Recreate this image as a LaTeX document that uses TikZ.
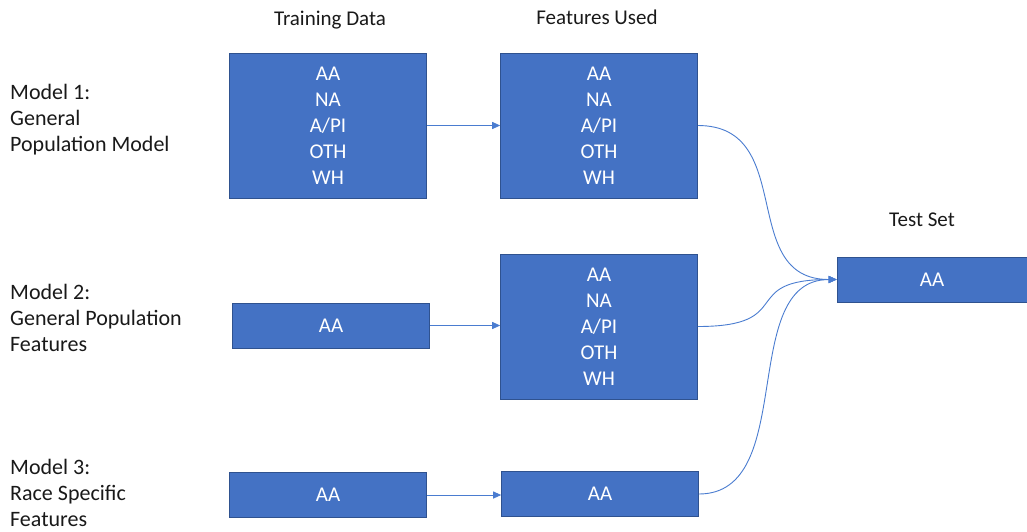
\documentclass[tikz,border=0pt]{standalone}
\usepackage{fontspec}
\setmainfont{Carlito}
\usetikzlibrary{arrows.meta}
\definecolor{boxblue}{HTML}{4472C4}
\definecolor{boxedge}{HTML}{2F528F}
\definecolor{linkblue}{HTML}{4A7CD0}

\begin{document}
\begin{tikzpicture}[x=1pt,y=-1pt,
  every node/.style={font=\fontsize{21}{26}\selectfont},
  databox/.style={draw=boxedge, line width=0.6pt, fill=boxblue, text=white,
    align=center, inner sep=0pt},
  tallbox/.style={databox, minimum width=197pt, minimum height=145pt},
  flatbox/.style={databox, minimum width=197pt, minimum height=45pt},
  heading/.style={anchor=base, inner sep=0pt, text=black!90},
  modellabel/.style={anchor=west, align=left, inner sep=0pt, text=black!90,
    font=\fontsize{22}{26}\selectfont},
  link/.style={draw=linkblue, line width=0.9pt, -{Triangle[length=8pt,width=7pt]}}]
  \useasboundingbox (0,0) rectangle (1027,531);

  % column headings
  \node[heading] (hTrain) at (330,25) {Training Data};
  \node[heading] (hFeat)  at (597,24) {Features Used};
  \node[heading] (hTest)  at (922,226) {Test Set};

  % row labels
  \node[modellabel] (m1) at (10,120) {Model 1:\\General\\Population Model};
  \node[modellabel] (m2) at (10,318) {Model 2:\\General Population\\Features};
  \node[modellabel] (m3) at (10,493) {Model 3:\\Race Specific\\Features};

  % training data boxes
  \node[tallbox] (t1) at (328,125.5) {AA\\NA\\A/PI\\OTH\\WH};
  \node[flatbox] (t2) at (331,325.5) {AA};
  \node[flatbox] (t3) at (328,495)   {AA};

  % feature boxes
  \node[tallbox] (f1) at (599,125.5) {AA\\NA\\A/PI\\OTH\\WH};
  \node[tallbox] (f2) at (599,326.5) {AA\\NA\\A/PI\\OTH\\WH};
  \node[flatbox] (f3) at (600,494)   {AA};

  % test set
  \node[databox, minimum width=190pt, minimum height=45pt] (test) at (932,279.5) {AA};

  % training -> features
  \draw[link] (t1.east) -- (f1.west);
  \draw[link] (t2.east) -- (t2.east -| f2.west);
  \draw[link] (t3.east) -- (t3.east -| f3.west);

  % features -> test set
  \draw[link] (f1.east) .. controls +(100,0) and +(-100,0) .. (test.west);
  \draw[link] (f2.east) .. controls +(100,0) and +(-100,0) .. (test.west);
  \draw[link] (f3.east) .. controls +(100,0) and +(-100,0) .. (test.west);
\end{tikzpicture}
\end{document}
